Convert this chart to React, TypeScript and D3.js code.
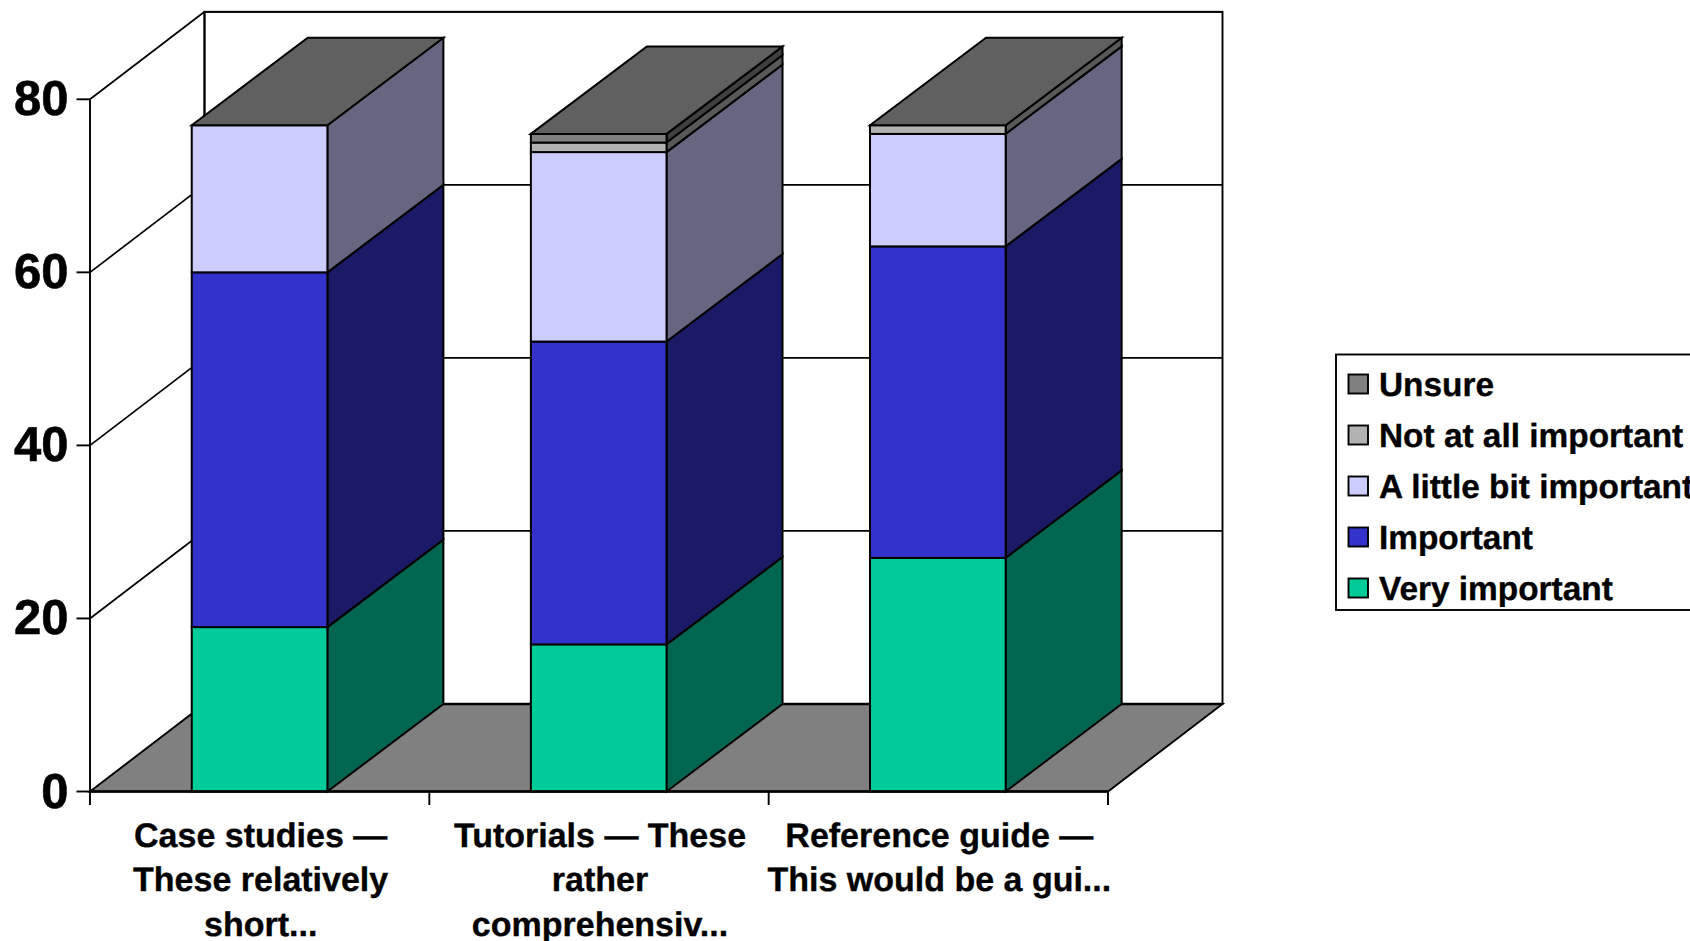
import React from "react";
import * as d3 from "d3";

// Survey responses per documentation type (percent of respondents).
const categoryLines = [
  ["Case studies \u2014", "These relatively", "short..."],
  ["Tutorials \u2014 These", "rather", "comprehensiv..."],
  ["Reference guide \u2014", "This would be a gui..."],
];
const categoryKeys = ["case", "tutorials", "reference"];
const seriesNames = ["Very important", "Important", "A little bit important", "Not at all important", "Unsure"];
const veryImportant = [19, 17, 27];
const important = [41, 35, 36];
const littleBit = [17, 21.9, 13];
const notAtAll = [0, 1.1, 1];
const unsure = [0, 1, 0];
const frontColors = ["#00CC99", "#3333CC", "#CCCCFF", "#B2B2B2", "#808080"];
const sideColors = ["#006650", "#1A1A66", "#666680", "#595959", "#404040"];
const topColor = "#606060";
const floorColor = "#808080";
const yTicks = [0, 20, 40, 60, 80];

const FONT = "'Liberation Sans', Arial, sans-serif";
const LINE = "#000";

// Oblique projection of the 3D plot box.
const left = 90;
const right = 1108;
const depthX = 114.5;
const depthY = -87.5;
const barDepthX = 116;

export default function App() {
  const y = d3.scaleLinear().domain([0, 80]).range([791.5, 99.3]);
  const x = d3.scaleBand<string>().domain(categoryKeys).range([left, right - 0.6]).paddingInner(0.6).paddingOuter(0.3);
  const rows = categoryKeys.map((key, i) => ({
    key,
    s0: veryImportant[i],
    s1: important[i],
    s2: littleBit[i],
    s3: notAtAll[i],
    s4: unsure[i],
  }));
  const stacked = d3.stack<any>().keys(["s0", "s1", "s2", "s3", "s4"])(rows);
  const band = d3.scaleBand<string>().domain(categoryKeys).range([left, right]);
  const poly = (pts: number[][]) => `M${pts.map((p) => p.join(",")).join("L")}Z`;
  const base = y(0);
  const top80 = y(80);

  return (
    <svg
      width={1690}
      height={941}
      style={{
        position: "absolute",
        left: 0,
        top: 0,
        background: "#fff",
        fontFamily: FONT,
        fontWeight: 700,
        textRendering: "geometricPrecision",
      }}
    >
      {/* Back wall, floor and side wall */}
      <rect x={left + depthX} y={top80 + depthY} width={right - left} height={base - top80} fill="#fff" stroke={LINE} strokeWidth={1.9} />
      <path
        d={poly([[left, base], [left + depthX, base + depthY], [right + depthX, base + depthY], [right, base]])}
        fill={floorColor}
        stroke={LINE}
        strokeWidth={1.9}
      />
      <line x1={left + depthX} x2={right + depthX} y1={base + depthY} y2={base + depthY} stroke={LINE} strokeWidth={2.4} />
      <line x1={left} x2={left} y1={top80} y2={base} stroke={LINE} strokeWidth={1.9} />
      <line x1={left + depthX} x2={left + depthX} y1={top80 + depthY} y2={base + depthY} stroke={LINE} strokeWidth={1.9} />

      {/* Gridlines across both walls */}
      {yTicks.slice(1).map((t) => (
        <g key={t} stroke={LINE} strokeWidth={1.7} fill="none">
          <line x1={left} y1={y(t)} x2={left + depthX} y2={y(t) + depthY} />
          <line x1={left + depthX} y1={y(t) + depthY} x2={right + depthX} y2={y(t) + depthY} />
        </g>
      ))}

      {/* Stacked columns */}
      {categoryKeys.map((key, c) => {
        const x0 = x(key) as number;
        const x1 = x0 + x.bandwidth();
        const topY = y(stacked[stacked.length - 1][c][1]);
        return (
          <g key={key} stroke={LINE} strokeWidth={2} strokeLinejoin="miter">
            {stacked.map((layer, s) => {
              const [v0, v1] = layer[c];
              if (v1 === v0) return null;
              const a = y(v0);
              const b = y(v1);
              return (
                <g key={s}>
                  <path
                    d={poly([[x1, a], [x1 + barDepthX, a + depthY], [x1 + barDepthX, b + depthY], [x1, b]])}
                    fill={sideColors[s]}
                  />
                  <rect x={x0} y={b} width={x1 - x0} height={a - b} fill={frontColors[s]} />
                </g>
              );
            })}
            <path
              d={poly([[x0, topY], [x0 + barDepthX, topY + depthY], [x1 + barDepthX, topY + depthY], [x1, topY]])}
              fill={topColor}
            />
          </g>
        );
      })}

      {/* Baseline */}
      <line x1={left} x2={right} y1={base} y2={base} stroke={LINE} strokeWidth={2.4} />

      {/* Value axis */}
      {yTicks.map((t) => (
        <g key={t}>
          <line x1={76.5} x2={left} y1={y(t)} y2={y(t)} stroke={LINE} strokeWidth={1.9} />
          <text x={68.5} y={y(t) + 16} textAnchor="end" fontSize={49} fill="#000" stroke="#000" strokeWidth={0.6}>
            {t}
          </text>
        </g>
      ))}

      {/* Category axis */}
      {categoryKeys.concat("end").map((key, i) => {
        const tx = i < 3 ? (band(key) as number) : right;
        return <line key={key} x1={tx} x2={tx} y1={base} y2={base + 13.5} stroke={LINE} strokeWidth={1.9} />;
      })}
      {categoryLines.map((lines, i) => {
        const cx = (band(categoryKeys[i]) as number) + band.bandwidth() / 2 + 1;
        return (
          <text key={i} textAnchor="middle" fontSize={34} fill="#000" stroke="#000" strokeWidth={0.35}>
            {lines.map((line, j) => (
              <tspan key={j} x={cx} y={846.7 + j * 44.6}>
                {line}
              </tspan>
            ))}
          </text>
        );
      })}

      {/* Legend, listed from the top of the stack down */}
      <rect x={1336} y={354.5} width={380} height={255.5} fill="#fff" stroke={LINE} strokeWidth={1.9} />
      {seriesNames
        .map((name, i) => ({ name, color: frontColors[i] }))
        .reverse()
        .map((item, i) => (
          <g key={item.name}>
            <rect x={1348.5} y={374.5 + i * 51} width={19.5} height={19} fill={item.color} stroke={LINE} strokeWidth={1.9} />
            <text x={1379} y={395.5 + i * 51} fontSize={33.4} fill="#000" stroke="#000" strokeWidth={0.35}>
              {item.name}
            </text>
          </g>
        ))}
    </svg>
  );
}
